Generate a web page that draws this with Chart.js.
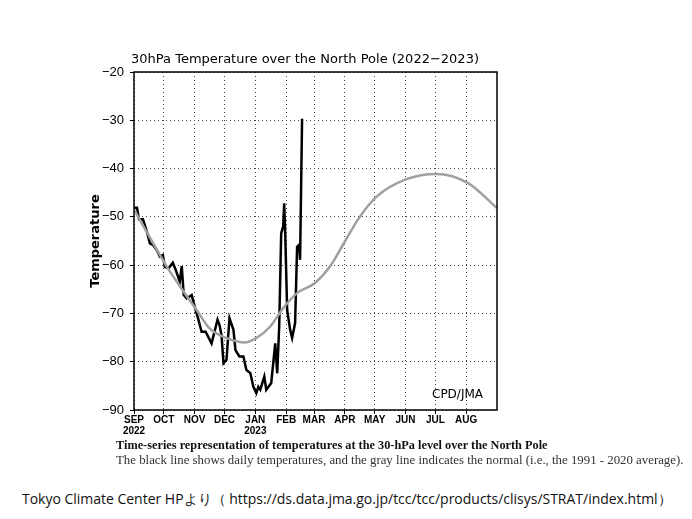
<!DOCTYPE html>
<html>
<head>
<meta charset="utf-8">
<script src="https://cdn.jsdelivr.net/npm/chart.js@4.4.0/dist/chart.umd.min.js"></script>
<style>
  body { margin: 0; background: #fff; width: 692px; height: 519px; position: relative; overflow: hidden; }
  #wrap { position: absolute; left: 0; top: 0; width: 692px; height: 440px; }
  .cap { position: absolute; white-space: nowrap; }
  #cap1 { left: 116px; top: 438px; font: bold 12px "Liberation Serif", serif; color: #111; }
  #cap2 { left: 116px; top: 453px; font: 12px "Liberation Serif", serif; color: #333; }
  #cap3 { left: 22px; top: 489px; font: 14px "Open Sans", sans-serif; color: #111; }
</style>
</head>
<body>
<div id="wrap"><canvas id="chart"></canvas></div>
<div class="cap" id="cap1" data-w="432">Time-series representation of temperatures at the 30-hPa level over the North Pole</div>
<div class="cap" id="cap2" data-w="568">The black line shows daily temperatures, and the gray line indicates the normal (i.e., the 1991 - 2020 average).</div>
<div class="cap" id="cap3" data-w="650">Tokyo Climate Center HPより（ https://ds.data.jma.go.jp/tcc/tcc/products/clisys/STRAT/index.html）</div>
<script>
// days counted from 1 Sep 2022
const monthDays = [0, 30, 61, 91, 122, 153, 181, 212, 242, 273, 303, 334];
const monthLabels = [['SEP', '2022'], 'OCT', 'NOV', 'DEC', ['JAN', '2023'], 'FEB', 'MAR', 'APR', 'MAY', 'JUN', 'JUL', 'AUG'];

// observed 30hPa temperature (black)
const obsDays = [0, 3, 5, 9, 13, 16, 19, 23, 26, 29, 31, 35, 39, 42, 46, 48, 50, 53, 58, 61, 64, 68, 72, 78,
  84, 86, 88, 90, 93, 96, 100, 102, 106, 110, 113, 117, 120, 123, 125, 127, 131, 133, 138, 142, 144,
  146, 148, 150, 151, 152, 154, 157, 159, 162, 164, 166, 167, 169];
const obsTemp = [-48.1, -48.1, -50.5, -50.5, -53.1, -55.5, -55.8, -56.9, -58.2, -57.9, -60.4, -60.6, -59.5,
  -61, -63.4, -60.2, -66.2, -66.9, -66.2, -68.6, -70.7, -73.8, -73.8, -76.2, -71.3, -72.4, -74.5, -80.3,
  -79.6, -71, -73.4, -77.6, -78.9, -78.9, -81.7, -82.4, -85.2, -86.5, -85.2, -85.8, -83.1, -85.8, -84.4,
  -76.2, -82.4, -72.7, -53.4, -52, -47.2, -53.1, -69.3, -73.4, -75.1, -72, -56.2, -55.8, -58.9, -29.7];

// 1991-2020 normal (gray)
const normDays = [0, 13, 33, 50, 63, 76, 93, 112, 123, 137, 150, 164, 182, 197, 212, 227, 244, 274, 304, 336, 365];
const normTemp = [-48.5, -53.2, -60.3, -65.5, -69.3, -73.1, -75.1, -76.0, -75.1, -72.7, -68.9, -65.8, -63.7,
  -60.3, -55.1, -50, -45.8, -42.2, -41.1, -43, -48.2];

const toPoints = (xs, ys) => xs.map((x, i) => ({ x: x, y: ys[i] }));

const frameAndText = {
  id: 'frameAndText',
  afterDraw(chart) {
    const { ctx, chartArea: a } = chart;
    ctx.save();
    ctx.strokeStyle = '#000';
    ctx.lineWidth = 1.5;
    ctx.strokeRect(a.left, a.top, a.right - a.left, a.bottom - a.top);
    ctx.fillStyle = '#000';
    ctx.textBaseline = 'middle';
    ctx.textAlign = 'center';
    ctx.font = '13px "DejaVu Sans", sans-serif';
    ctx.fillText('30hPa Temperature over the North Pole (2022\u22122023)', 305, 60);
    ctx.textAlign = 'right';
    ctx.font = '12px "DejaVu Sans", sans-serif';
    ctx.fillText('CPD/JMA', 483, 395);
    ctx.restore();
  }
};

new Chart(document.getElementById('chart'), {
  type: 'line',
  data: {
    datasets: [
      {
        label: 'Normal',
        data: toPoints(normDays, normTemp),
        borderColor: '#a0a0a0',
        borderWidth: 2.5,
        pointRadius: 0,
        tension: 0.4,
        cubicInterpolationMode: 'monotone'
      },
      {
        label: 'Daily',
        data: toPoints(obsDays, obsTemp),
        borderColor: '#000',
        borderWidth: 2.5,
        pointRadius: 0,
        tension: 0
      }
    ]
  },
  options: {
    responsive: true,
    maintainAspectRatio: false,
    animation: false,
    layout: { padding: { left: 74, right: 195, top: 72, bottom: 0 } },
    plugins: { legend: { display: false }, tooltip: { enabled: false } },
    scales: {
      x: {
        type: 'linear',
        min: 0,
        max: 365,
        afterBuildTicks: axis => { axis.ticks = monthDays.map(v => ({ value: v })); },
        afterFit: axis => { axis.height = 30; },
        ticks: {
          autoSkip: false,
          maxRotation: 0,
          padding: 1,
          color: '#000',
          font: { family: '"Liberation Sans Narrow", "Liberation Sans", sans-serif', size: 10, weight: 'bold', lineHeight: 1.05 },
          callback: v => monthLabels[monthDays.indexOf(v)]
        },
        grid: { color: '#444', lineWidth: 1, tickLength: 4, tickColor: '#000', tickBorderDash: [] },
        border: { display: false, dash: [1, 3] }
      },
      y: {
        min: -90,
        max: -20,
        afterFit: axis => { axis.width = 60; },
        ticks: {
          stepSize: 10,
          padding: 6,
          color: '#000',
          font: { family: '"Liberation Sans", sans-serif', size: 13 },
          callback: v => String(v).replace('-', '\u2212')
        },
        title: {
          display: true,
          text: 'Temperature',
          color: '#000',
          font: { family: '"DejaVu Sans", sans-serif', size: 13, weight: 'bold' },
          padding: { top: 14, bottom: 0 }
        },
        grid: { color: '#444', lineWidth: 1, tickLength: 4, tickColor: '#000', tickBorderDash: [] },
        border: { display: false, dash: [1, 3] }
      }
    }
  },
  plugins: [frameAndText]
});

// fit caption lines to the width they take in the reference
document.querySelectorAll('.cap').forEach(el => {
  const target = +el.dataset.w;
  const size = parseFloat(getComputedStyle(el).fontSize);
  el.style.fontSize = (size * target / el.offsetWidth).toFixed(2) + 'px';
});
</script>
</body>
</html>
